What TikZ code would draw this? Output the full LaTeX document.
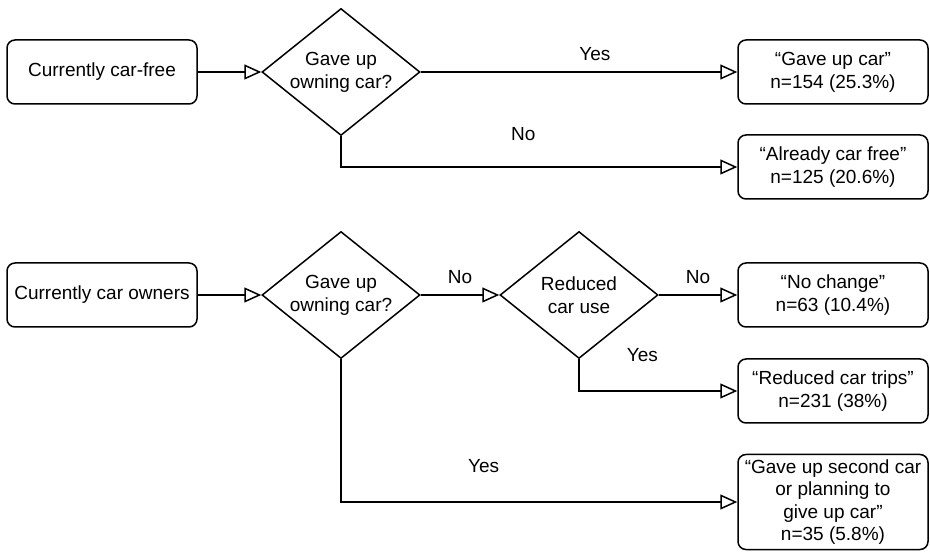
\documentclass[tikz,border=0pt]{standalone}
\usepackage{fontspec}
\setmainfont{Liberation Sans}
\usetikzlibrary{arrows.meta,shapes.geometric}

\begin{document}
\begin{tikzpicture}[>={Triangle[open,length=17pt,width=15pt]}, x=1pt, y=-1pt,
    line width=1.5pt, font=\fontsize{19}{23}\selectfont,
    group/.style={draw, rounded corners=8pt, minimum width=190pt, minimum height=64pt, align=center},
    decision/.style={draw, diamond, minimum width=158pt, minimum height=127pt, inner sep=-12pt, align=center},
    answer/.style={above=7pt}, farlabel/.style={above=#1}]
    \useasboundingbox (0,0) rectangle (930,553);

    % Nodes {car-free}
    \node [group] 		(cf)   at (102,72) 							{Currently car-free};
    \node [decision] 	(d1)   [right of=cf, node distance=239pt] 	{Gave up\\owning car?};
    \node [group] 		(gave) [right of=d1, node distance=492pt] 	{``Gave up car''\\n=154 (25.3\%)};
    \node [group] 		(free) [below of=gave, node distance=95pt] 	{``Already car free''\\n=125 (20.6\%)};

    % Nodes {car owners}
    \node [group] 		(co)   [below of=cf, node distance=223pt] 	{Currently car owners};
    \node [decision] 	(d2)   [right of=co, node distance=239pt] 	{Gave up\\owning car?};
    \node [decision] 	(d3)   [right of=d2, node distance=238pt] 	{Reduced\\car use};
    \node [group] 		(same) [right of=d3, node distance=254pt] 	{``No change''\\n=63 (10.4\%)};
    \node [group] 		(trip) [below of=same, node distance=96pt] 	{``Reduced car trips''\\n=231 (38\%)};
    \node [group, minimum height=95pt, inner sep=1pt, font=\fontsize{19}{22.5}\selectfont]
    					(sec)  [below of=trip, node distance=111pt] {``Gave up second car\\or planning to\\give up car''\\n=35 (5.8\%)};

    % Paths
    \path [->] 	(cf) edge 				(d1);
    \path [->] 	(d1) edge 	node	[answer, pos=.55]	{Yes}	(gave);
    \draw [->] 	(d1) |- 	node	[farlabel=22pt, pos=.73]	{No}	(free);
    \path [->] 	(co) edge 				(d2);
    \path [->] 	(d2) edge 	node	[answer]	{No}	(d3);
    \path [->] 	(d3) edge 	node	[answer]	{No}	(same);
    \draw [->] 	(d3) |- 	node	[farlabel=25pt, pos=.70]	{Yes}	(trip);
    \draw [->] 	(d2) |- 	node	[farlabel=25pt, pos=.68]	{Yes}	(sec);

\end{tikzpicture}
\end{document}
